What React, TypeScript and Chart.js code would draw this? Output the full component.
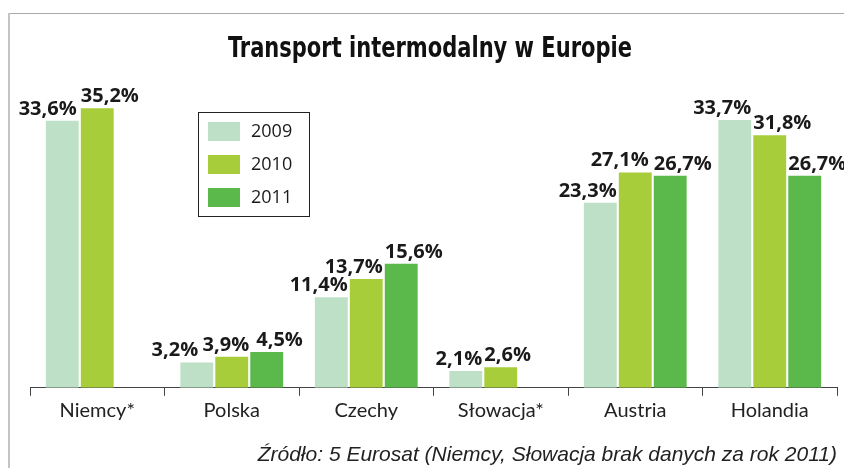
import React, { useEffect, useRef } from 'react';
import { Chart, registerables } from 'chart.js';

Chart.register(...registerables);

const categories = ['Niemcy*', 'Polska', 'Czechy', 'Słowacja*', 'Austria', 'Holandia'];
const years = ['2009', '2010', '2011'];
const values2009: (number | null)[] = [33.6, 3.2, 11.4, 2.1, 23.3, 33.7];
const values2010: (number | null)[] = [35.2, 3.9, 13.7, 2.6, 27.1, 31.8];
const values2011: (number | null)[] = [null, 4.5, 15.6, null, 26.7, 26.7];
const colors = ['#bde0c6', '#a8cd3b', '#5bb94b'];

// which bar edge each value label hugs ('r' = right edge, 'l' = left edge)
const labelSide2009 = ['r', 'r', 'r', 'r', 'r', 'r'];
const labelSide2010 = ['l', 'r', 'r', 'l', 'r', 'l'];
const labelSide2011 = ['l', 'l', 'l', 'l', 'l', 'l'];
const labelNudge2009 = [-2, -15, 0, 0, 0, 0];
const labelNudge2010 = [0, 1, 0, 0, -3, 0];
const labelNudge2011 = [0, 6, 0, 0, 0, 0];

const titleText = 'Transport intermodalny w Europie';
const sourceText = 'Źródło: 5 Eurosat (Niemcy, Słowacja brak danych za rok 2011)';

const seriesValues = [values2009, values2010, values2011];
const labelSides = [labelSide2009, labelSide2010, labelSide2011];
const labelNudges = [labelNudge2009, labelNudge2010, labelNudge2011];

const fmt = (v: number) => v.toFixed(1).replace('.', ',') + '%';

const framePlugin = {
  id: 'frame',
  beforeDraw(chart: any) {
    const { ctx, width, height } = chart;
    ctx.save();
    ctx.fillStyle = '#ffffff';
    ctx.fillRect(0, 0, width, height);
    ctx.strokeStyle = '#aaaaaa';
    ctx.lineWidth = 1;
    ctx.beginPath();
    ctx.moveTo(8, 13.5);
    ctx.lineTo(width, 13.5);
    ctx.stroke();
    ctx.strokeStyle = '#c4c4c4';
    ctx.lineWidth = 2;
    ctx.beginPath();
    ctx.moveTo(9, 13);
    ctx.lineTo(9, height);
    ctx.stroke();
    ctx.restore();
  },
};

const titlePlugin = {
  id: 'condensedTitle',
  afterDraw(chart: any) {
    const { ctx, width } = chart;
    ctx.save();
    ctx.font = "bold 29px 'DejaVu Sans Condensed', 'DejaVu Sans', sans-serif";
    try {
      (ctx as any).fontStretch = 'condensed';
    } catch (e) {
      /* ignore */
    }
    ctx.fillStyle = '#111111';
    ctx.textBaseline = 'alphabetic';
    ctx.textAlign = 'center';
    const w = ctx.measureText(titleText).width;
    const targetW = 404;
    const sx = w > 0 ? targetW / w : 1;
    const cx = width / 2 + 8;
    ctx.translate(cx, 56.5);
    ctx.scale(sx, 1);
    ctx.fillText(titleText, 0, 0);
    ctx.restore();
  },
};

const valueLabelPlugin = {
  id: 'valueLabels',
  afterDatasetsDraw(chart: any) {
    const { ctx } = chart;
    ctx.save();
    ctx.font = "bold 20px 'Open Sans', sans-serif";
    ctx.fillStyle = '#1a1a1a';
    ctx.textBaseline = 'alphabetic';
    chart.data.datasets.forEach((ds: any, i: number) => {
      const meta = chart.getDatasetMeta(i);
      meta.data.forEach((bar: any, j: number) => {
        const v = ds.data[j];
        if (v === null || v === undefined) return;
        const { x, y, width } = bar.getProps(['x', 'y', 'width'], true);
        const side = labelSides[i][j];
        const nudge = labelNudges[i][j];
        let tx: number;
        if (side === 'r') {
          ctx.textAlign = 'right';
          tx = x + width / 2 + nudge;
        } else {
          ctx.textAlign = 'left';
          tx = x - width / 2 + nudge;
        }
        ctx.fillText(fmt(v), tx, y - 6);
      });
    });
    ctx.restore();
  },
};

const boxLegendPlugin = {
  id: 'boxLegend',
  afterDraw(chart: any) {
    const { ctx, chartArea } = chart;
    const bx = chartArea.left + 168;
    const by = chartArea.top + 42;
    const bw = 111;
    const bh = 104;
    ctx.save();
    ctx.strokeStyle = '#222222';
    ctx.lineWidth = 1;
    ctx.strokeRect(bx + 0.5, by + 0.5, bw, bh);
    ctx.font = "18px 'Open Sans', sans-serif";
    ctx.textBaseline = 'middle';
    ctx.textAlign = 'left';
    chart.data.datasets.forEach((ds: any, i: number) => {
      const sy = by + 10 + i * 33;
      ctx.fillStyle = ds.backgroundColor;
      ctx.fillRect(bx + 10, sy, 32, 19);
      ctx.fillStyle = '#1a1a1a';
      ctx.fillText(ds.label, bx + 53, sy + 10);
    });
    ctx.restore();
  },
};

export default function App() {
  const canvasRef = useRef<HTMLCanvasElement | null>(null);

  useEffect(() => {
    if (!canvasRef.current) return;
    const chart = new Chart(canvasRef.current, {
      type: 'bar',
      data: {
        labels: categories,
        datasets: years.map((y, i) => ({
          label: y,
          data: seriesValues[i],
          backgroundColor: colors[i],
          borderWidth: 0,
          categoryPercentage: 0.78,
          barPercentage: 0.94,
        })),
      },
      options: {
        responsive: false,
        animation: false,
        devicePixelRatio: 1,
        layout: { padding: { left: 30, right: 7, top: 70, bottom: 0 } },
        plugins: {
          legend: { display: false },
          tooltip: { enabled: false },
          title: { display: false },
          subtitle: {
            display: true,
            text: sourceText,
            position: 'bottom',
            align: 'end',
            color: '#222222',
            font: {
              family: "'Liberation Sans', Arial, sans-serif",
              size: 21,
              style: 'italic',
            },
            padding: { top: 17, bottom: 0 },
          },
        },
        scales: {
          x: {
            offset: true,
            grid: {
              offset: true,
              drawOnChartArea: false,
              drawTicks: true,
              tickLength: 8,
              color: '#444444',
              lineWidth: 1,
            },
            border: { display: true, color: '#444444', width: 1 },
            ticks: {
              color: '#222222',
              padding: 3,
              font: { family: "Lato, 'Open Sans', sans-serif", size: 20 },
            },
          },
          y: {
            display: false,
            min: 0,
            max: 40,
          },
        },
      },
      plugins: [framePlugin, valueLabelPlugin, boxLegendPlugin, titlePlugin],
    });
    return () => chart.destroy();
  }, []);

  return (
    <div style={{ position: 'absolute', left: 0, top: 0, width: 844, height: 468 }}>
      <canvas ref={canvasRef} width={844} height={468} />
    </div>
  );
}
